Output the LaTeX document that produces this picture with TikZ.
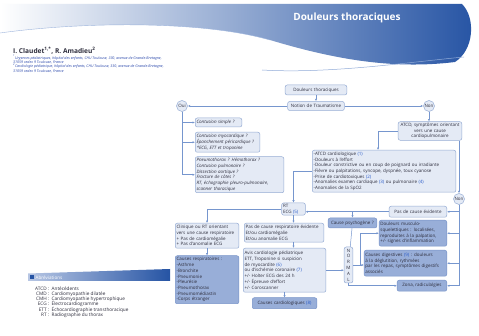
\documentclass[tikz,border=0pt]{standalone}
\usepackage{fontspec}
\setmainfont{Open Sans}
\usetikzlibrary{arrows.meta,positioning}
\definecolor{hdr}{RGB}{38,84,164}
\definecolor{wire}{RGB}{118,150,206}
\definecolor{boxline}{RGB}{150,172,212}
\definecolor{boxlight}{RGB}{228,234,245}
\definecolor{boxdark}{RGB}{152,174,216}
\definecolor{boxdarkline}{RGB}{120,148,200}
\definecolor{ink}{RGB}{45,45,60}
\definecolor{refblue}{RGB}{40,90,200}
\definecolor{affil}{RGB}{40,70,170}
\newcommand\fs{\fontsize{4.5}{5.7}\selectfont}
\newcommand\rf[1]{\textcolor{refblue}{#1}}
\tikzset{
  lbox/.style={
    rectangle, rounded corners=2pt, draw=boxline, fill=boxlight, text=ink,
    font=\fs, align=left, inner sep=1.3pt, line width=0.5pt
  },
  dbox/.style={lbox, fill=boxdark, draw=boxdarkline},
  rond/.style={
    circle, draw=boxline, fill=boxlight, text=ink, font=\fs,
    inner sep=0pt, minimum size=11pt, line width=0.5pt
  },
  fleche/.style={-{Latex[length=2.4pt,width=2.2pt]}, draw=wire, line width=0.5pt},
  trait/.style={draw=wire, line width=0.5pt}
}

\begin{document}
\begin{tikzpicture}[x=1pt,y=-1pt]
\useasboundingbox (0,0) rectangle (479,336);
\fill[white] (0,0) rectangle (479,336);
% en-tete
\shade[left color=white, middle color=hdr!50!white, right color=hdr]
  (0,4) -- (462,4) .. controls (476,18) and (474,50) .. (455,62)
  .. controls (390,70) and (330,58) .. (270,40)
  .. controls (200,20) and (80,22) .. (0,33) -- cycle;
\draw[wire!70, line width=0.4pt] (0,33) .. controls (80,22) and (200,20) .. (270,40);
\draw[wire!80, line width=0.5pt] (262,70) .. controls (330,74) and (410,62) .. (464,57);
\node[text=white, font=\fontsize{10}{12}\bfseries\selectfont] (titre) at (347,18) {Douleurs thoraciques};
\node[anchor=west, text=ink, font=\fontsize{6.6}{7}\bfseries\selectfont, inner sep=0pt] (auteurs) at (13,51)
  {I. Claudet\textsuperscript{1,*}, R. Amadieu\textsuperscript{2}};
\node[anchor=north west, text=affil, align=left, inner sep=0pt,
  font=\fontsize{3.6}{4.4}\itshape\selectfont] (affil) at (13,55)
  {\textsuperscript{1}Urgences pédiatriques, hôpital des enfants, CHU Toulouse, 330, avenue de Grande-Bretagne,\\
   31059 cedex 9 Toulouse, France\\
   \textsuperscript{2}Cardiologie pédiatrique, hôpital des enfants, CHU Toulouse, 330, avenue de Grande-Bretagne,\\
   31059 cedex 9 Toulouse, France};

% arbre
\node[lbox, align=center, text width=59pt, minimum height=10pt] (doul) at (316,90) {Douleurs thoraciques};
\node[lbox, align=center, text width=54pt, minimum height=9pt, below=6pt of doul] (trauma) {Notion de Traumatisme};
\node[rond] (oui) at (182,106) {Oui};
\node[rond] (non) at (429,106) {Non};
\node[lbox, anchor=west, text width=44pt, minimum height=9pt] (cs) at (195,122.5) {\textit{Contusion simple ?}};
\node[lbox, anchor=north west, text width=62pt, minimum height=20pt] (cm) at (195,132)
  {\textit{Contusion myocardique ?}\\\textit{Épanchement péricardique ?}\\\textit{*ECG, ETT et troponine}};
\node[lbox, below right=4pt and 0pt of cm.south west, text width=86pt, minimum height=36pt, font=\fs\itshape] (pn)
  {Pneumothorax ? Hémothorax ?\\Contusion pulmonaire ?\\Dissection aortique ?\\Fracture de côtes ?\\* RT, échographie pleuro-pulmonaire,\\* scanner thoracique};
\node[lbox, align=center, text width=61pt, minimum height=18pt] (atcd) at (430,131)
  {ATCD, symptômes orientant\\vers une cause\\cardiopulmonaire};
\node[lbox, anchor=north west, text width=141pt, minimum height=42pt] (crit) at (312,150)
  {-ATCD cardiologique \rf{(1)}\\-Douleurs à l'effort\\-Douleur constrictive ou en coup de poignard ou irradiante\\-Fièvre ou palpitations, syncope, dyspnée, toux cyanose\\-Prise de cardiotoxiques \rf{(2)}\\-Anomalies examen cardiaque \rf{(3)} ou pulmonaire \rf{(4)}\\-Anomalies de la SpO2};
\node[rond] (non2) at (459,199) {Non};
\node[lbox, text width=21pt, minimum height=12pt] (rtecg) at (293.5,209) {RT\\ECG \rf{(5)}};
\node[lbox, anchor=north west, text width=61pt, minimum height=25pt] (clin) at (175,223)
  {Clinique ou RT orientant\\vers une cause respiratoire\\+ Pas de cardiomégalie\\+ Pas d'anomalie ECG};
\node[dbox, below=7pt of clin, text width=61pt, minimum height=48pt] (resp)
  {Causes respiratoires :\\-Asthme\\-Bronchite\\-Pneumonie\\-Pleurésie\\-Pneumothorax\\-Pneumomédiastin\\-Corps étranger};
\node[lbox, anchor=north west, text width=77pt, minimum height=19pt] (pasresp) at (244,223)
  {Pas de cause respiratoire évidente\\Et/ou cardiomégalie\\Et/ou anomalie ECG};
\node[lbox, anchor=north west, text width=80pt, minimum height=44pt] (avis) at (243,248)
  {Avis cardiologie pédiatrique\\ETT, Troponine si suspicion\\de myocardite \rf{(6)}\\ou d'ischémie coronaire \rf{(7)}\\+/- Holter ECG des 24 h\\+/- Épreuve d'effort\\+/- Coroscanner};
\node[dbox, align=center, below=5pt of avis, text width=62pt, minimum height=11pt] (cardio) {Causes cardiologiques \rf{(8)}};
\node[lbox, align=center, anchor=north east, text width=55pt, minimum height=11pt] (pasev) at (447,206) {Pas de cause évidente};
\node[dbox, align=center, text width=46pt, minimum height=10pt] (psy) at (352.5,223) {Cause psychogène ?};
\node[dbox, anchor=north east, text width=65pt, minimum height=26pt] (musc) at (447,220)
  {Douleurs musculo-\\squelettiques : localisées,\\reproduites à la palpation,\\+/- signes d'inflammation};
\node[dbox, anchor=north east, text width=80pt, minimum height=26pt] (dig) at (447,250)
  {Causes digestives \rf{(9)} : douleurs\\à la déglutition, rythmées\\par les repas, symptômes digestifs\\associés};
\node[dbox, align=center, anchor=north east, text width=47pt, minimum height=11pt] (zona) at (447,280) {Zona, radiculalgies};
\node[lbox, align=center, text width=6pt, minimum height=36pt, font=\fontsize{4.5}{5.8}\selectfont] (normal) at (348.5,265)
  {N\\O\\R\\M\\A\\L};

\draw[fleche] (doul) -- (trauma);
\draw[fleche] (trauma) -- (oui);
\draw[fleche] (trauma) -- (non);
\draw[fleche] (oui) |- (cs);
\draw[fleche] (oui) |- (cm);
\draw[fleche] (oui) |- (pn);
\draw[fleche] (non) -- (non |- atcd.north);
\draw[fleche] (atcd) -| ([xshift=-6pt]crit.north);
\draw[fleche] (atcd.south -| non2) -- (non2);
\draw[fleche] (crit) -| (rtecg);
\draw[fleche] (rtecg) -| (clin);
\draw[fleche] (rtecg) -- (rtecg |- pasresp.north);
\draw[fleche] (clin) -- (resp);
\draw[fleche] (pasresp.south -| rtecg) -- (avis.north -| rtecg);
\draw[fleche] (avis) -- (cardio);
\draw[fleche] (avis) -- (avis -| normal.west);
\draw[fleche] (pasev) -- (pasev -| rtecg.east);
\draw[fleche] (pasev -| psy) -- (psy);
\draw[trait] (psy) -- (normal);
\draw[fleche] (normal) -- (normal -| dig.west);
\draw[fleche] ([xshift=7pt]normal.east) |- (musc);
\draw[fleche] (normal) |- (zona);
\draw[fleche] (non2) |- (pasev);
\draw[fleche] (non2) |- (musc);
\draw[fleche] (non2) |- (dig);
\draw[fleche] (non2) |- (zona);

% abreviations
\shade[left color=boxdark!70, right color=hdr] (28,273.5) -- (170,269) -- (170,281) -- (28,281) -- cycle;
\fill[hdr] (30,275.5) rectangle (33.5,279);
\node[anchor=west, text=white, font=\fontsize{4.6}{5}\selectfont, inner sep=0pt] (abrtitre) at (35.5,277.3) {Abréviations};
\node[anchor=north west, text=ink, inner sep=0pt, font=\fontsize{4.7}{4.5}\selectfont] (abrev) at (35,286.5)
  {\renewcommand{\arraystretch}{0.95}\begin{tabular}{@{}r@{\ :\ \ }l@{}}
   ATCD & Antécédents\\
   CMD & Cardiomyopathie dilatée\\
   CMH & Cardiomyopathie hypertrophique\\
   ECG & Électrocardiogramme\\
   ETT & Échocardiographie transthoracique\\
   RT & Radiographie du thorax
   \end{tabular}};
\end{tikzpicture}
\end{document}
